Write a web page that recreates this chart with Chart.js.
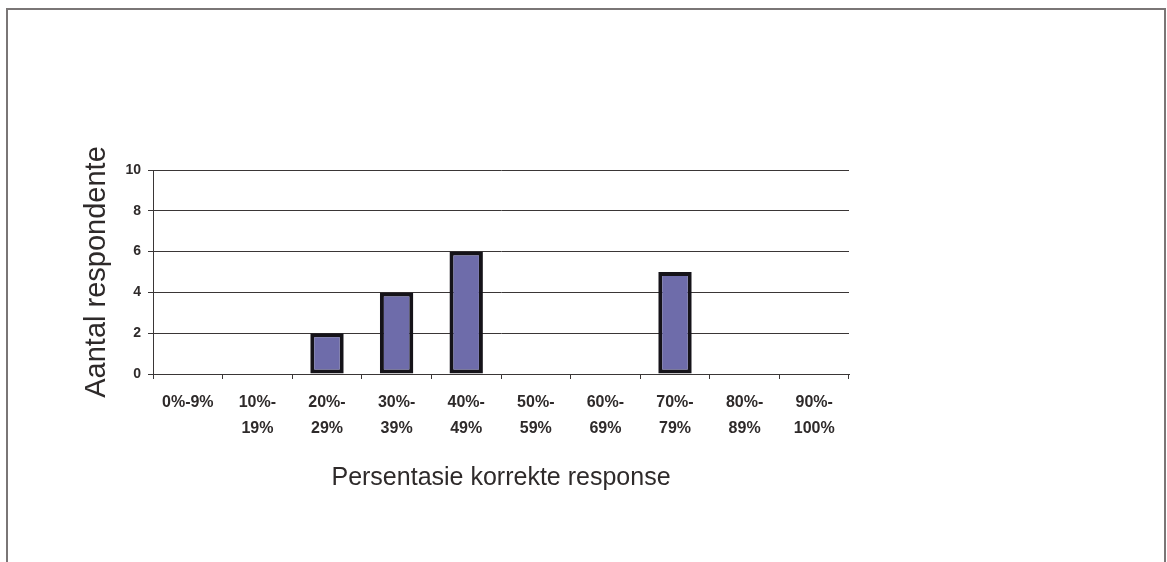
<!DOCTYPE html>
<html>
<head>
<meta charset="utf-8">
<script src="https://cdn.jsdelivr.net/npm/chart.js@4.4.1/dist/chart.umd.min.js"></script>
<style>
  html, body { margin: 0; padding: 0; background: #ffffff; }
  #wrap { width: 1167px; height: 562px; position: relative; }
</style>
</head>
<body>
<div id="wrap"><canvas id="chart" width="1167" height="562"></canvas></div>
<script>
// Score bands (percentage of correct responses), split over two lines
const categories = [
  ["0%-9%"], ["10%-", "19%"], ["20%-", "29%"], ["30%-", "39%"], ["40%-", "49%"],
  ["50%-", "59%"], ["60%-", "69%"], ["70%-", "79%"], ["80%-", "89%"], ["90%-", "100%"]
];
// Number of respondents in each band
const respondents = [0, 0, 2, 4, 6, 0, 0, 5, 0, 0];
const yTicks = [0, 2, 4, 6, 8, 10];

const FONT = "'Liberation Sans', Arial, sans-serif";
const INK = "#2e2a2a";
const RULE = "#3a3636";

// Thin grey frame around the figure (open at the bottom)
const framePlugin = {
  id: "frame",
  afterDraw(chart) {
    const ctx = chart.ctx;
    ctx.save();
    ctx.strokeStyle = "#7a7676";
    ctx.lineWidth = 2;
    ctx.beginPath();
    ctx.moveTo(7, 562);
    ctx.lineTo(7, 9);
    ctx.lineTo(1165, 9);
    ctx.lineTo(1165, 562);
    ctx.stroke();
    ctx.restore();
  }
};

new Chart(document.getElementById("chart"), {
  type: "bar",
  data: {
    labels: categories,
    datasets: [{
      data: respondents,
      backgroundColor: "#6e6caa",
      borderColor: "#151319",
      borderWidth: 4,
      borderSkipped: false,
      barPercentage: 0.48,
      categoryPercentage: 1.0
    }]
  },
  options: {
    responsive: false,
    animation: false,
    devicePixelRatio: 1,
    layout: { padding: { left: 80, right: 318, top: 170, bottom: 69 } },
    plugins: { legend: { display: false }, tooltip: { enabled: false } },
    scales: {
      x: {
        offset: true,
        grid: {
          offset: true,
          drawOnChartArea: false,
          drawTicks: true,
          tickLength: 5,
          tickColor: RULE,
          lineWidth: 1
        },
        border: { display: true, color: RULE, width: 1 },
        ticks: {
          color: INK,
          font: { family: FONT, size: 16, weight: "bold", lineHeight: 1.625 },
          maxRotation: 0,
          autoSkip: false,
          padding: 11
        },
        title: {
          display: true,
          text: "Persentasie korrekte response",
          color: INK,
          font: { family: FONT, size: 25 },
          padding: { top: 10, bottom: 0 }
        }
      },
      y: {
        min: 0,
        max: 10,
        afterFit(scale) { scale.width = 73; },
        afterBuildTicks(scale) { scale.ticks = yTicks.map(v => ({ value: v })); },
        grid: {
          color: RULE,
          tickColor: RULE,
          tickLength: 5,
          lineWidth: 1
        },
        border: { display: true, color: RULE, width: 1 },
        ticks: {
          color: INK,
          font: { family: FONT, size: 14, weight: "bold" },
          padding: 7
        },
        title: {
          display: true,
          text: "Aantal respondente",
          color: INK,
          font: { family: FONT, size: 29 },
          padding: { top: 0, bottom: 0 }
        }
      }
    }
  },
  plugins: [framePlugin]
});
</script>
</body>
</html>
